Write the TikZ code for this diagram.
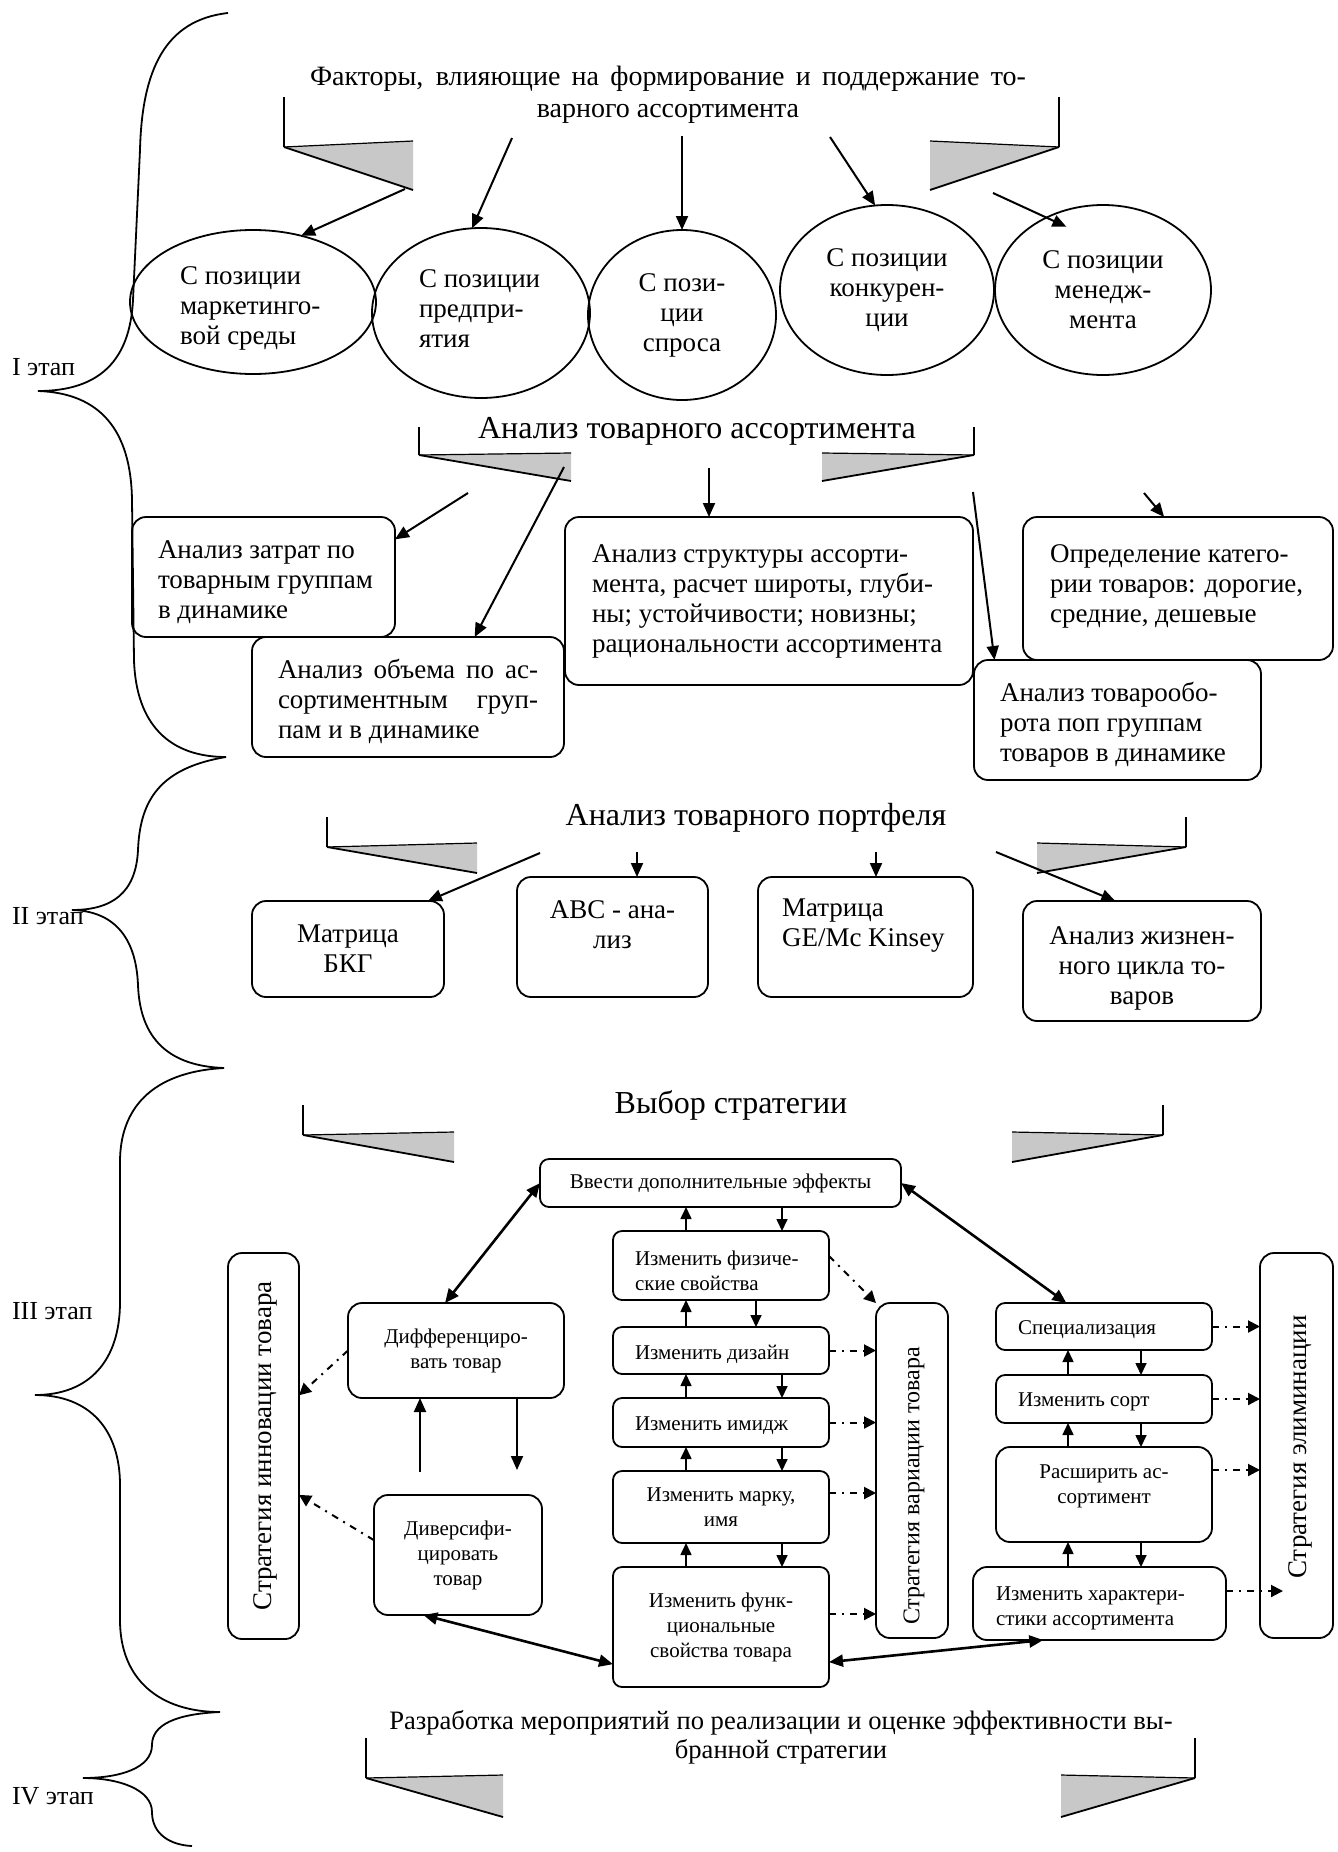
\documentclass[tikz,border=0pt]{standalone}
\usepackage{fontspec}
\setmainfont{Liberation Serif}
\usetikzlibrary{arrows.meta,shapes.geometric}
\definecolor{trigray}{RGB}{200,200,200}
\newcommand{\ribbonfr}[8]{%
  \fill[trigray] (#1,#4) -- (#5,#7) -- (#5,#8) -- cycle;
  \fill[trigray] (#2,#4) -- (#6,#7) -- (#6,#8) -- cycle;
  \draw[line width=0.9pt] (#1,#3) -- (#1,#4);
  \draw[line width=0.9pt] (#2,#3) -- (#2,#4);
  \draw[line width=0.6pt] (#5,#7) -- (#1,#4);
  \draw[line width=0.9pt] (#1,#4) -- (#5,#8);
  \draw[line width=0.6pt] (#6,#7) -- (#2,#4);
  \draw[line width=0.9pt] (#2,#4) -- (#6,#8);
}
\newcommand{\lblock}[1]{\begin{tabular}{@{}l@{}}#1\end{tabular}}
\begin{document}
\begin{tikzpicture}[x=0.5pt,y=-0.5pt,
  every node/.style={inner sep=0pt,outer sep=0pt},
  spanbox/.style n args={4}{at={({(#1+#3)/2},{(#2+#4)/2})},minimum width={(#3-#1)*0.5pt},minimum height={(#4-#2)*0.5pt}},
  rbox/.style={draw,line width=0.9pt,rounded corners=7pt,inner sep=0pt},
  sbox/.style={draw,line width=0.9pt,rounded corners=4.5pt,inner sep=0pt},
  ell/.style={draw,ellipse,line width=0.9pt,inner sep=0pt},
  brc/.style={line width=0.9pt},
  arr/.style={line width=1pt,-{Triangle[length=7pt,width=6pt]}},
  sarr/.style={line width=0.8pt,-{Triangle[length=6pt,width=5.5pt]}},
  darr/.style={line width=1.3pt,{Triangle[length=7pt,width=6pt]}-{Triangle[length=7pt,width=6pt]}},
  ddarr/.style={line width=1pt,dash pattern=on 3.5pt off 3pt on 1pt off 3pt,-{Triangle[length=6pt,width=6pt]}},
  ttl/.style={font=\fontsize{14}{16}\selectfont},
  big/.style={font=\fontsize{13.5}{15}\selectfont},
  hdr/.style={font=\fontsize{16}{18}\selectfont},
  sml/.style={font=\fontsize{10.5}{12.5}\selectfont},
  stg/.style={font=\fontsize{13}{15}\selectfont},
  ltxt/.style={anchor=west,xshift=#1}]
\useasboundingbox (0,0) rectangle (1338,1852);

% ---------- braces ----------
\draw[brc] (228,13) .. controls (165,20) and (142,70) .. (140,150) -- (133,300)
  .. controls (130,360) and (100,391) .. (38,391)
  .. controls (100,393) and (131,430) .. (132,500) -- (134,660)
  .. controls (136,725) and (170,757) .. (226,757);
\draw[brc] (226,757) .. controls (160,768) and (140,800) .. (138,850)
  .. controls (136,893) and (112,910) .. (72,910)
  .. controls (112,911) and (136,935) .. (138,985)
  .. controls (140,1040) and (170,1066) .. (224,1068);
\draw[brc] (224,1068) .. controls (150,1072) and (120,1110) .. (120,1162) -- (120,1302)
  .. controls (120,1360) and (90,1395) .. (35,1395)
  .. controls (90,1395) and (120,1430) .. (120,1485) -- (120,1620)
  .. controls (120,1680) and (160,1712) .. (220,1712);
\draw[brc] (220,1712) .. controls (175,1714) and (152,1725) .. (152,1745)
  .. controls (152,1768) and (120,1778) .. (83,1778)
  .. controls (120,1778) and (152,1790) .. (152,1812)
  .. controls (152,1834) and (170,1845) .. (192,1846);

\node[stg,anchor=west] (L1) at (12,367) {I этап};
\node[stg,anchor=west] (L2) at (12,916) {II этап};
\node[stg,anchor=west] (L3) at (12,1311) {III этап};
\node[stg,anchor=west] (L4) at (12,1796) {IV этап};

% ---------- frames ----------
\ribbonfr{284}{1059}{97}{147}{413}{930}{141}{190}
\ribbonfr{419}{974}{427}{455}{571}{822}{453}{481}
\ribbonfr{327}{1186}{817}{847}{477}{1037}{843}{873}
\ribbonfr{303}{1163}{1105}{1135}{454}{1012}{1132}{1162}
\ribbonfr{366}{1195}{1738}{1778}{503}{1061}{1775}{1817}

% ---------- section I ----------
\node[ttl,align=center] (T1) at (668,95) {\makebox[358pt][s]{Факторы, влияющие на формирование и поддержание то-}\\варного ассортимента};
\node[ell,minimum width=123pt,minimum height=72pt,
  label={[big,ltxt=25pt,yshift=-3pt,name=E1t]west:{\lblock{С позиции\\маркетинго-\\вой среды}}}] (E1) at (253,302) {};
\node[ell,minimum width=109pt,minimum height=85pt,
  label={[big,ltxt=23.5pt,yshift=1pt,name=E2t]west:{\lblock{С позиции\\предпри-\\ятия}}}] (E2) at (481,313) {};
\node[ell,big,align=center,minimum width=94pt,minimum height=85pt] (E3) at (682,315) {С пози-\\ции\\спроса};
\node[ell,big,align=center,minimum width=107pt,minimum height=85pt] (E4) at (887,290) {С позиции\\конкурен-\\ции};
\node[ell,big,align=center,minimum width=108pt,minimum height=85pt] (E5) at (1103,290) {С позиции\\менедж-\\мента};
\coordinate (s1) at (405,189);
\coordinate (s2) at (512,138);
\coordinate (s3) at (682,136);
\coordinate (s4) at (830,137);
\coordinate (s5) at (993,193);
\draw[arr] (s1) -- (E1.54);
\draw[arr] (s2) -- (E2.96);
\draw[arr] (s3) -- (E3.north);
\draw[arr] (s4) -- (E4.98);
\draw[arr,shorten >=-11pt] (s5) -- (E5.128);

% ---------- section I (analysis) ----------
\node[hdr] (T2) at (697,431) {Анализ товарного ассортимента};
\node[rbox,spanbox={132}{517}{395}{637},
  label={[big,ltxt=13pt,yshift=-2.5pt,name=B1t]west:{\lblock{Анализ затрат по\\товарным группам\\в динамике}}}] (B1) {};
\node[rbox,spanbox={252}{637}{564}{757},
  label={[big,ltxt=13pt,yshift=-2.5pt,name=B2t]west:{\lblock{\makebox[130pt][l]{Анализ\hfill объема\hfill по\hfill ас-}\\\makebox[130pt][l]{сортиментным\hfill груп-}\\пам и в динамике}}}] (B2) {};
\node[rbox,spanbox={565}{517}{973}{685},
  label={[big,ltxt=13.5pt,name=B3t]west:{\lblock{Анализ структуры ассорти-\\мента, расчет широты, глуби-\\ны; устойчивости; новизны;\\рациональности ассортимента}}}] (B3) {};
\node[rbox,spanbox={1023}{517}{1333}{660},
  label={[big,ltxt=13.5pt,yshift=1pt,name=B4t]west:{\lblock{Определение катего-\\рии товаров: дорогие,\\средние, дешевые}}}] (B4) {};
\node[rbox,spanbox={974}{660}{1261}{780},
  label={[big,ltxt=13pt,yshift=-2.5pt,name=B5t]west:{\lblock{Анализ товарообо-\\рота поп группам\\товаров в динамике}}}] (B5) {};
\coordinate (t1) at (468,493);
\coordinate (t2) at (564,467);
\coordinate (t3) at (709,468);
\coordinate (t4) at (973,492);
\coordinate (t5) at (1144,493);
\draw[arr] (t1) -- (B1.16);
\draw[arr] (t2) -- (B2.42);
\draw[arr] (t3) -- (t3 |- B3.north);
\draw[arr] (t4) -- (B5.154);
\draw[arr] (t5) -- (B4.101);

% ---------- section II ----------
\node[hdr] (T3) at (756,818) {Анализ товарного портфеля};
\node[rbox,big,align=center,spanbox={252}{901}{444}{997}] (D1) {Матрица\\БКГ};
\node[rbox,big,align=center,spanbox={517}{877}{708}{997}] (D2) {ABC - ана-\\лиз\rule[-12pt]{0pt}{0pt}};
\node[rbox,spanbox={758}{877}{973}{997},
  label={[big,ltxt=12pt,yshift=6pt,name=D3t]west:{\lblock{Матрица\\GE/Mc Kinsey}}}] (D3) {};
\node[rbox,big,align=center,spanbox={1023}{901}{1261}{1021}] (D4) {\rule{0pt}{16pt}Анализ жизнен-\\ного цикла то-\\варов};
\coordinate (u1) at (540,853);
\coordinate (u2) at (637,852);
\coordinate (u3) at (876,852);
\coordinate (u4) at (996,852);
\draw[arr] (u1) -- (D1.31);
\draw[arr] (u2) -- (u2 |- D2.north);
\draw[arr] (u3) -- (u3 |- D3.north);
\draw[arr] (u4) -- (D4.114);

% ---------- section III ----------
\node[hdr] (T4) at (731,1105) {Выбор стратегии};
\node[sbox,sml,spanbox={540}{1159}{901}{1207}] (F1) {Ввести дополнительные эффекты};
\node[sbox,spanbox={613}{1231}{829}{1300},
  label={[sml,ltxt=11pt,yshift=-3.5pt,name=G1t]west:{\lblock{Изменить физиче-\\ские свойства}}}] (G1) {};
\node[sbox,spanbox={613}{1327}{829}{1374},
  label={[sml,ltxt=11pt,yshift=-2pt,name=G2t]west:{Изменить дизайн}}] (G2) {};
\node[sbox,spanbox={613}{1398}{829}{1447},
  label={[sml,ltxt=11pt,yshift=-1.5pt,name=G3t]west:{Изменить имидж}}] (G3) {};
\node[sbox,sml,align=center,spanbox={613}{1471}{829}{1543}] (G4) {Изменить марку,\\имя};
\node[sbox,sml,align=center,spanbox={613}{1567}{829}{1687}] (G5) {Изменить функ-\\циональные\\свойства товара};
\node[rbox,sml,align=center,spanbox={348}{1303}{564}{1398}] (H1) {Дифференциро-\\вать товар};
\node[rbox,sml,align=center,spanbox={374}{1495}{542}{1615}] (H2) {Диверсифи-\\цировать\\товар};
\node[rbox,spanbox={228}{1253}{299}{1639}] (I1) {};
\node[font=\fontsize{13.5}{15}\selectfont,rotate=90] (I1t) at ([xshift=1pt]I1.center) {Стратегия инновации товара};
\node[rbox,spanbox={876}{1303}{948}{1638}] (V) {};
\node[font=\fontsize{12}{14}\selectfont,rotate=90] (Vt) at (914,1486) {Стратегия вариации товара};
\node[rbox,spanbox={1260}{1253}{1333}{1638}] (E) {};
\node[font=\fontsize{13.5}{15}\selectfont,rotate=90] (Et) at (1300,1447) {Стратегия элиминации};
\node[sbox,spanbox={996}{1303}{1212}{1350},
  label={[sml,ltxt=11pt,yshift=-1.5pt,name=S1t]west:{Специализация}}] (S1) {};
\node[sbox,spanbox={996}{1375}{1212}{1423},
  label={[sml,ltxt=11pt,yshift=-1.5pt,name=S2t]west:{Изменить сорт}}] (S2) {};
\node[rbox,sml,align=center,spanbox={996}{1447}{1212}{1542}] (S3) {Расширить ас-\\сортимент\rule[-10pt]{0pt}{0pt}};
\node[rbox,spanbox={973}{1567}{1226}{1640},
  label={[sml,ltxt=11.5pt,yshift=-2pt,name=S4t]west:{\lblock{Изменить характери-\\стики ассортимента}}}] (S4) {};

\coordinate (ux) at (686,0);
\coordinate (dx) at (782,0);
\coordinate (dxa) at (756,0);
\coordinate (sux) at (1068,0);
\coordinate (sdx) at (1141,0);
\coordinate (h2a) at (420,1472);
\coordinate (h2b) at (517,1470);

\draw[sarr] (ux |- G1.north) -- (ux |- F1.south);
\draw[sarr] (dx |- F1.south) -- (dx |- G1.north);
\draw[sarr] (ux |- G2.north) -- (ux |- G1.south);
\draw[sarr] (dxa |- G1.south) -- (dxa |- G2.north);
\draw[sarr] (ux |- G3.north) -- (ux |- G2.south);
\draw[sarr] (dx |- G2.south) -- (dx |- G3.north);
\draw[sarr] (ux |- G4.north) -- (ux |- G3.south);
\draw[sarr] (dx |- G3.south) -- (dx |- G4.north);
\draw[sarr] (ux |- G5.north) -- (ux |- G4.south);
\draw[sarr] (dx |- G4.south) -- (dx |- G5.north);

\draw[sarr] (sux |- S2.north) -- (sux |- S1.south);
\draw[sarr] (sdx |- S1.south) -- (sdx |- S2.north);
\draw[sarr] (sux |- S3.north) -- (sux |- S2.south);
\draw[sarr] (sdx |- S2.south) -- (sdx |- S3.north);
\draw[sarr] (sux |- S4.north) -- (sux |- S3.south);
\draw[sarr] (sdx |- S3.south) -- (sdx |- S4.north);

\draw[arr] (h2a) -- (h2a |- H1.south);
\draw[arr] (h2b |- H1.south) -- (h2b);

\draw[darr] (F1.west) -- (H1.103);
\draw[darr] (F1.east) -- (S1.148);
\draw[darr] (H2.240) -- (G5.199);
\draw[darr] (G5.-18) -- (S4.213);

\draw[ddarr] (H1.west) -- (I1.55);
\draw[ddarr] (H2.170) -- (I1.-54);
\draw[ddarr] (G1.5) -- (V.north west);
\draw[ddarr] (G2.east) -- (G2.east -| V.west);
\draw[ddarr] (G3.east) -- (G3.east -| V.west);
\draw[ddarr] ([yshift=7pt]G4.east) -- ([yshift=7pt]G4.east -| V.west);
\draw[ddarr] ([yshift=6.5pt]G5.east) -- ([yshift=6.5pt]G5.east -| V.west);
\draw[ddarr] (S1.east) -- (S1.east -| E.west);
\draw[ddarr] (S2.east) -- (S2.east -| E.west);
\draw[ddarr] ([yshift=12.25pt]S3.east) -- ([yshift=12.25pt]S3.east -| E.west);
\draw[ddarr,shorten >=-11.5pt] ([yshift=6.25pt]S4.east) -- ([yshift=6.25pt]S4.east -| E.west);

% ---------- section IV ----------
\node[font=\fontsize{13.3}{14.5}\selectfont,align=center] (T5) at (781,1737) {Разработка мероприятий по реализации и оценке эффективности вы-\\бранной стратегии};
\end{tikzpicture}
\end{document}
